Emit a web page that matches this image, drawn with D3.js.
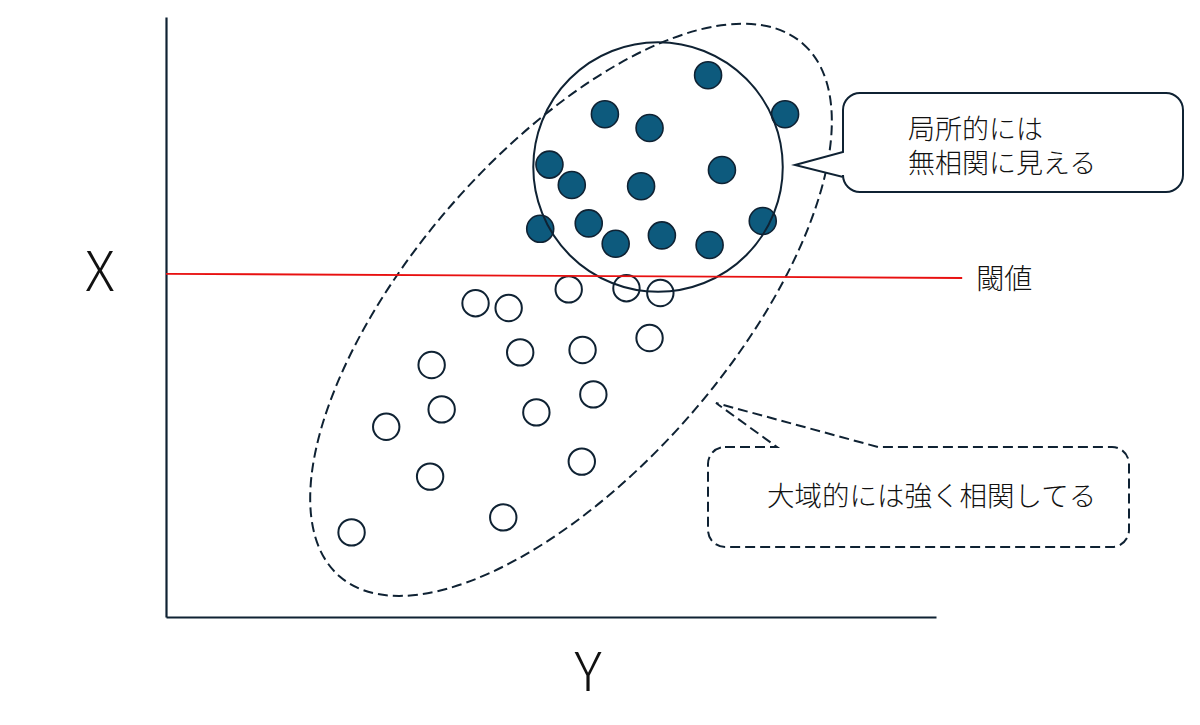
<!DOCTYPE html>
<html>
<head>
<meta charset="utf-8">
<script src="https://cdn.jsdelivr.net/npm/d3@7"></script>
<style>
  body { margin: 0; background: #fff; }
  text { font-family: "Noto Sans CJK JP", "Noto Sans", sans-serif; fill: #111; }
</style>
</head>
<body>
<script>
// points above threshold (filled) and below (open), in 0-100 units
const highX = [70.4, 80.4, 57.0, 62.8, 49.8, 52.7, 61.7, 72.2, 48.6, 54.9, 58.4, 64.4, 70.6, 77.5]
const highY = [90.3, 83.8, 83.8, 81.5, 75.4, 72.0, 71.8, 74.5, 64.7, 65.6, 62.2, 63.6, 62.0, 66.0]
const lowX = [40.2, 44.5, 52.3, 59.8, 64.2, 62.8, 46.0, 54.1, 34.5, 55.5, 35.8, 48.1, 28.6, 54.0, 34.3, 43.8, 24.1]
const lowY = [52.3, 51.5, 54.6, 54.8, 54.0, 46.5, 44.1, 44.5, 42.0, 37.1, 34.6, 34.1, 31.7, 25.9, 23.4, 16.6, 14.1]
const thresholdX = [0, 103.4]
const thresholdY = [57.2, 56.5]
const localCircle = { cx: 63.9, cy: 75.0, r: 16.2 }
const globalEllipse = { cx: 52.6, cy: 51.2 }
const labels = {
  x: "X",
  y: "Y",
  threshold: "閾値",
  local: ["局所的には", "無相関に見える"],
  global: "大域的には強く相関してる",
}

const width = 1200
const height = 725
const ink = "#0f2233"
const teal = "#0d5a7d"

const svg = d3.select("body").append("svg")
  .attr("width", width)
  .attr("height", height)

const x = d3.scaleLinear().domain([0, 100]).range([166, 936])
const y = d3.scaleLinear().domain([0, 100]).range([617, 17])

// axes, no ticks
svg.append("g")
  .attr("transform", `translate(${x(0)},0)`)
  .call(d3.axisLeft(y).tickValues([]).tickSizeOuter(0))
  .select(".domain").attr("stroke", ink).attr("stroke-width", 2.2)
svg.append("g")
  .attr("transform", `translate(0,${y(0)})`)
  .call(d3.axisBottom(x).tickValues([]).tickSizeOuter(0))
  .select(".domain").attr("stroke", ink).attr("stroke-width", 2.2)

svg.append("text")
  .attr("x", 100).attr("y", 291)
  .attr("text-anchor", "middle")
  .attr("font-family", "'Noto Sans', sans-serif")
  .attr("font-weight", 300)
  .attr("font-size", 55)
  .text(labels.x)
svg.append("text")
  .attr("x", 588).attr("y", 691)
  .attr("text-anchor", "middle")
  .attr("font-family", "'Noto Sans', sans-serif")
  .attr("font-weight", 300)
  .attr("font-size", 54)
  .text(labels.y)

// global dashed ellipse
svg.append("ellipse")
  .attr("cx", x(globalEllipse.cx))
  .attr("cy", y(globalEllipse.cy))
  .attr("rx", 353)
  .attr("ry", 159)
  .attr("transform", `rotate(-49 ${x(globalEllipse.cx)} ${y(globalEllipse.cy)})`)
  .attr("fill", "none")
  .attr("stroke", ink)
  .attr("stroke-width", 2)
  .attr("stroke-dasharray", "10 5")

// points
const high = highX.map((v, i) => ({ x: v, y: highY[i] }))
const low = lowX.map((v, i) => ({ x: v, y: lowY[i] }))

svg.append("g")
  .selectAll("circle")
  .data(high)
  .enter()
  .append("circle")
  .attr("cx", (d) => x(d.x))
  .attr("cy", (d) => y(d.y))
  .attr("r", 13.5)
  .attr("fill", teal)
  .attr("stroke", ink)
  .attr("stroke-width", 1.6)

svg.append("g")
  .selectAll("circle")
  .data(low)
  .enter()
  .append("circle")
  .attr("cx", (d) => x(d.x))
  .attr("cy", (d) => y(d.y))
  .attr("r", 13.2)
  .attr("fill", "none")
  .attr("stroke", ink)
  .attr("stroke-width", 2)

// local circle
svg.append("circle")
  .attr("cx", x(localCircle.cx))
  .attr("cy", y(localCircle.cy))
  .attr("r", x(localCircle.r) - x(0))
  .attr("fill", "none")
  .attr("stroke", ink)
  .attr("stroke-width", 2)

// threshold
svg.append("line")
  .attr("x1", x(thresholdX[0])).attr("y1", y(thresholdY[0]))
  .attr("x2", x(thresholdX[1])).attr("y2", y(thresholdY[1]))
  .attr("stroke", "#e81010")
  .attr("stroke-width", 1.8)
svg.append("text")
  .attr("x", x(thresholdX[1]) + 14)
  .attr("y", y(thresholdY[1]) + 11)
  .attr("font-size", 28)
  .attr("font-weight", 300)
  .text(labels.threshold)

// callout: rounded box with a pointer
function bubble(x0, y0, x1, y1, r, side, a, b, tip) {
  const p = d3.path()
  p.moveTo(x0 + r, y0)
  if (side === "top") {
    p.lineTo(a, y0)
    p.lineTo(tip[0], tip[1])
    p.lineTo(b, y0)
  }
  p.arcTo(x1, y0, x1, y0 + r, r)
  p.arcTo(x1, y1, x1 - r, y1, r)
  p.arcTo(x0, y1, x0, y1 - r, r)
  if (side === "left") {
    p.lineTo(x0, b)
    p.lineTo(tip[0], tip[1])
    p.lineTo(x0, a)
  }
  p.arcTo(x0, y0, x0 + r, y0, r)
  p.closePath()
  return p.toString()
}

svg.append("path")
  .attr("d", bubble(843, 93, 1183, 192, 17, "left", 152, 177, [795, 165]))
  .attr("fill", "#fff")
  .attr("stroke", ink)
  .attr("stroke-width", 2)

labels.local.forEach((line, i) => {
  svg.append("text")
    .attr("x", 908)
    .attr("y", 139 + i * 34)
    .attr("font-size", 27)
    .attr("font-weight", 300)
    .text(line)
})

svg.append("path")
  .attr("d", bubble(708, 447, 1129, 547, 17, "top", 777, 878, [716, 403]))
  .attr("fill", "#fff")
  .attr("stroke", ink)
  .attr("stroke-width", 2)
  .attr("stroke-dasharray", "10 5")

svg.append("text")
  .attr("x", 767)
  .attr("y", 506)
  .attr("font-size", 27.5)
  .attr("font-weight", 300)
  .text(labels.global)
</script>
</body>
</html>
